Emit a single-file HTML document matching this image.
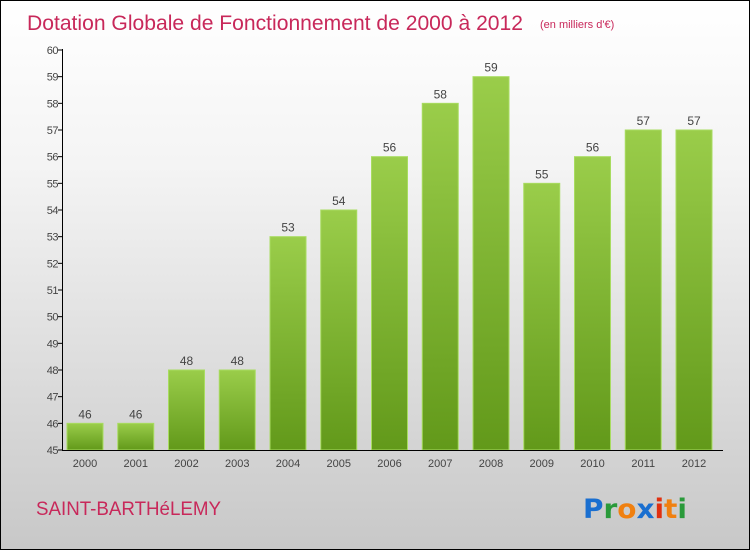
<!DOCTYPE html>
<html><head><meta charset="utf-8"><style>
body{margin:0}
#c{width:748px;height:548px;border:1px solid #000;background:linear-gradient(#ffffff,#f4f4f4 30%,#c8c8c8);position:relative;overflow:hidden;font-family:"Liberation Sans",sans-serif}
</style></head><body>
<div id="c">
<svg width="748" height="548" id="s">
<defs><linearGradient id="g" x1="0" y1="0" x2="0" y2="1"><stop offset="0" stop-color="#9acd4a"/><stop offset="1" stop-color="#62991a"/></linearGradient></defs>
<text x="26" y="29" font-size="21" fill="#c8285a" textLength="496" lengthAdjust="spacingAndGlyphs">Dotation Globale de Fonctionnement de 2000 à 2012</text>
<text x="539" y="27" font-size="11" fill="#c8285a">(en milliers d'€)</text>
<text x="35" y="514" font-size="19" fill="#c8285a" textLength="185" lengthAdjust="spacingAndGlyphs">SAINT-BARTHéLEMY</text>
<g font-size="27" font-family="'DejaVu Sans',sans-serif" font-weight="bold">
<text x="582" y="517" fill="#1a6fd0" textLength="104" lengthAdjust="spacingAndGlyphs">P<tspan fill="#2a9a3a">r</tspan><tspan fill="#f08010">o</tspan><tspan fill="#1a6fd0">x</tspan><tspan fill="#e03010">i</tspan><tspan fill="#f08010">t</tspan><tspan fill="#2a9a3a">i</tspan></text></g>
<g id="plot"></g>
</svg></div>
<script>
const years=["2000","2001","2002","2003","2004","2005","2006","2007","2008","2009","2010","2011","2012"];
const values=[46,46,48,48,53,54,56,58,59,55,56,57,57];
const yTicks=[45,46,47,48,49,50,51,52,53,54,55,56,57,58,59,60];
const NS="http://www.w3.org/2000/svg",p=document.getElementById('plot');
const y=v=>449-(v-45)*400/15, x=i=>84+i*50.75;
function mk(t,a,txt){const e=document.createElementNS(NS,t);for(const k in a)e.setAttribute(k,a[k]);if(txt!=null)e.textContent=txt;p.appendChild(e);return e;}
yTicks.forEach(v=>{
 const t=mk('text',{x:57,y:y(v)+4,'font-size':11,fill:'#444','text-anchor':'end','letter-spacing':'-0.5'},v);
 
 
 const l=mk('line',{x1:57,x2:61,y1:y(v),y2:y(v),stroke:'#000'});
 
 
});
values.forEach((v,i)=>{
 const r=mk('rect',{x:x(i)-18,y:y(v),width:36,height:y(45)-y(v),fill:'url(#g)',stroke:'#a8dc60','stroke-width':1});
 
 
 const t=mk('text',{x:x(i),y:y(v)-5,'font-size':12,fill:'#444','text-anchor':'middle'},v);
 
 
 const xl=mk('text',{x:x(i),y:466,'font-size':11,fill:'#444','text-anchor':'middle'},years[i]);
 
 
});
const ya=mk('line',{x1:61.5,x2:61.5,y1:y(60)-1,y2:y(45),stroke:'#000'});


const xa=mk('line',{x1:61,x2:722,y1:y(45)+0.5,y2:y(45)+0.5,stroke:'#000'});


</script>
</body></html>
